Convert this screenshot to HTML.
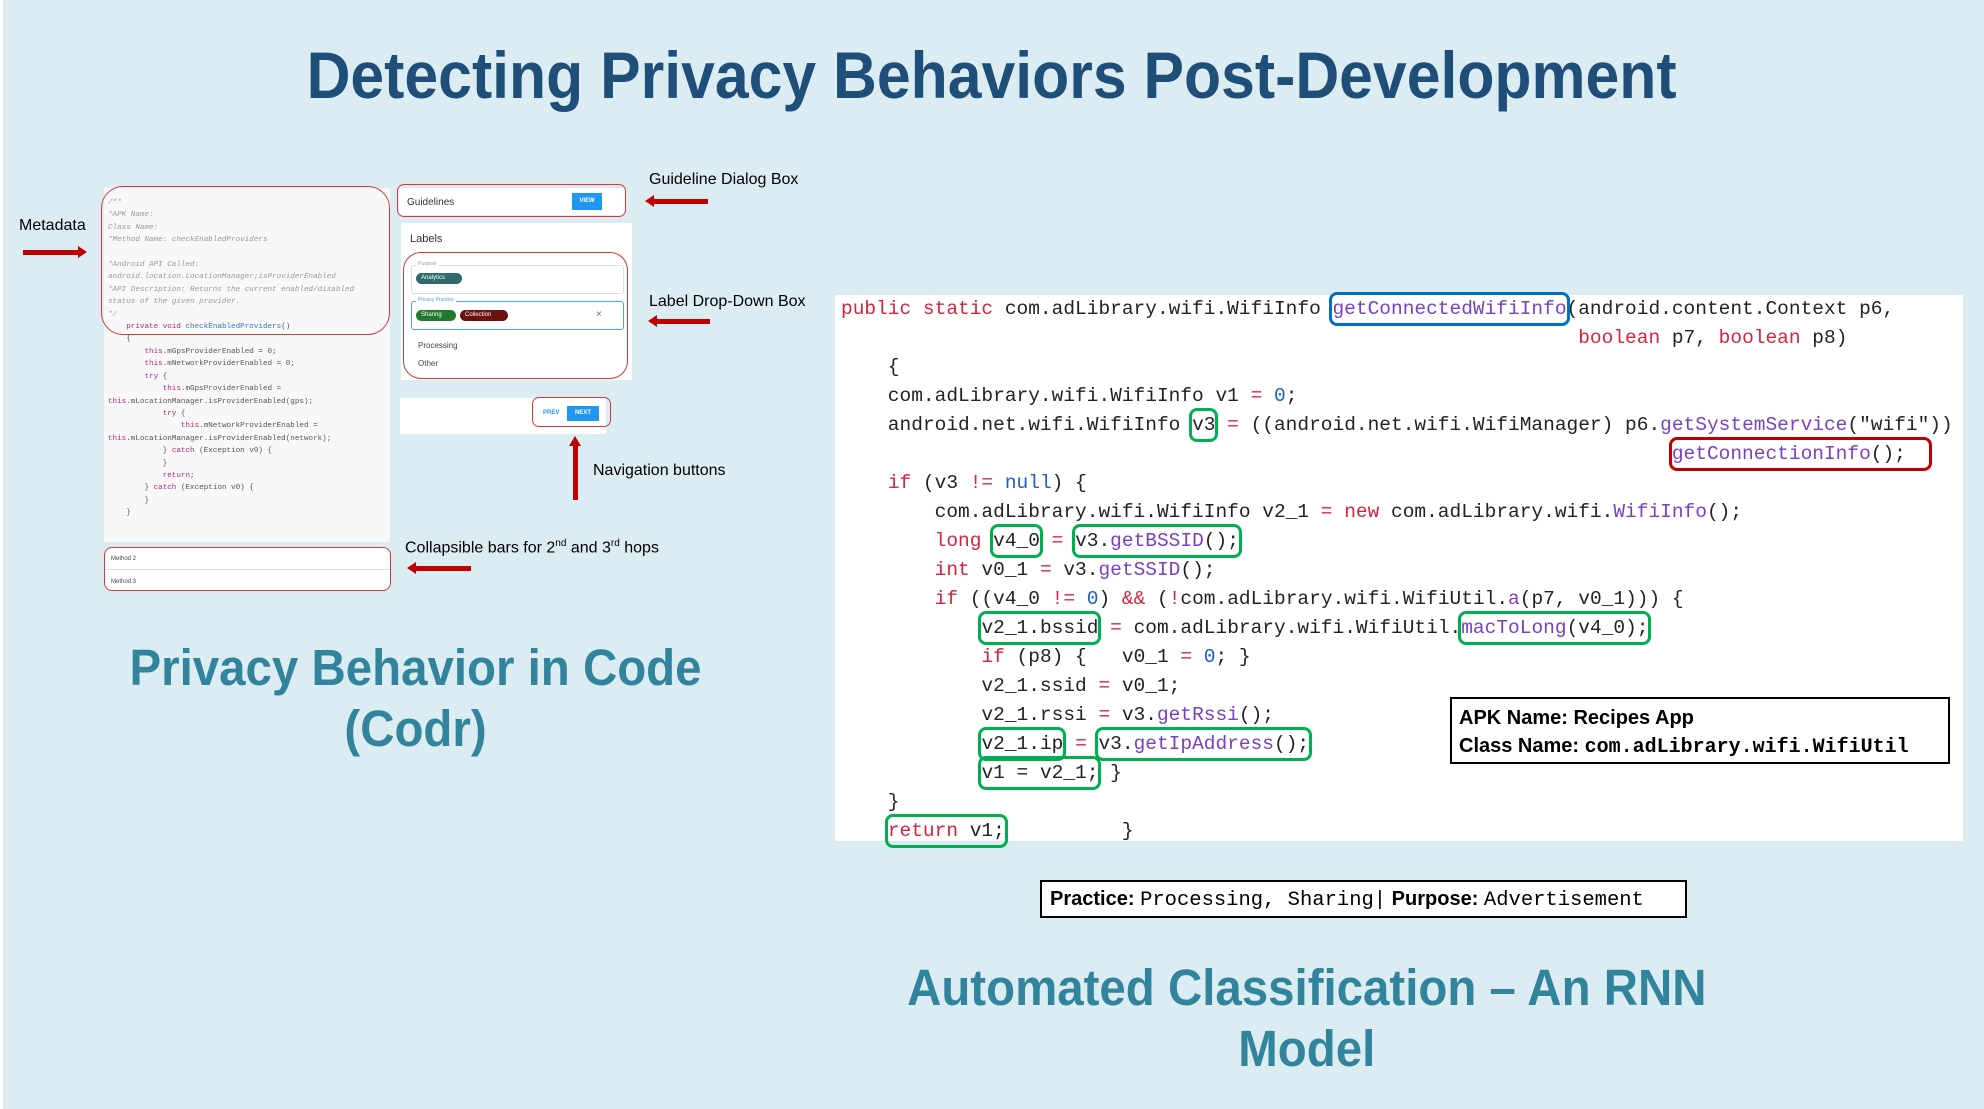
<!DOCTYPE html>
<html><head><meta charset="utf-8">
<style>
*{margin:0;padding:0;box-sizing:border-box}
body{width:1984px;height:1109px;background:#dbedf3;position:relative;overflow:hidden;font-family:"Liberation Sans",sans-serif}
.a{position:absolute}
.title{left:0;width:1984px;top:37px;text-align:center;font-size:66px;font-weight:bold;color:#1f4e79;white-space:nowrap}
.title span{display:inline-block;transform:scaleX(0.92)}
.sub{color:#31849b;font-weight:bold;font-size:51px;text-align:center;line-height:61px;white-space:nowrap}
.sub span{display:inline-block;transform:scaleX(0.93)}
.lbl{font-size:16px;color:#000;white-space:nowrap}
.arrL{height:5px;background:#c00000}
.arrL:before{content:"";position:absolute;left:-8px;top:-4px;border-right:9px solid #c00000;border-top:6.5px solid transparent;border-bottom:6.5px solid transparent}
.arrR{height:5px;background:#c00000}
.arrR:after{content:"";position:absolute;right:-8px;top:-4px;border-left:9px solid #c00000;border-top:6.5px solid transparent;border-bottom:6.5px solid transparent}
.sc{font-family:"Liberation Mono",monospace;font-size:7.6px;color:#555;white-space:pre;line-height:12.4px}
.sc i{color:#999}
.pk{color:#b5287a}.pb{color:#3b6fd0}
.code{left:835px;top:295px;width:1128px;height:546px;background:#fff}
.ln{position:absolute;font-family:"Liberation Mono",monospace;font-size:19.5px;line-height:29px;white-space:pre;color:#222}
.k{color:#d9233c}.m{color:#7a3fc4}.n{color:#1a5fd0}
.g,.b,.r{border-radius:5px;padding:3px 0}
.g{box-shadow:0 0 0 3px #00b050}
.b{box-shadow:0 0 0 3px #0070c0}
.r{box-shadow:0 0 0 3px #c00000}
.chip{position:absolute;height:11px;border-radius:6px;color:#fff;font-size:6px;line-height:11px;padding-left:5px}
</style></head><body>
<div class="a" style="left:0;top:0;width:3px;height:1109px;background:#fff"></div>
<div class="a title"><span>Detecting Privacy Behaviors Post-Development</span></div>

<div class="a" style="left:104px;top:188px;width:286px;height:354px;background:#f8f8f8"></div>
<div class="a sc" style="left:108px;top:197px"><i>/**
*APK Name:
Class Name:
*Method Name: checkEnabledProviders

*Android API Called:
android.location.LocationManager;isProviderEnabled
*API Description: Returns the current enabled/disabled
status of the given provider.
*/</i>
    <span class="pk">private void</span> <span class="pb">checkEnabledProviders</span>()
    {
        <span class="pk">this</span>.mGpsProviderEnabled = 0;
        <span class="pk">this</span>.mNetworkProviderEnabled = 0;
        <span class="pk">try</span> {
            <span class="pk">this</span>.mGpsProviderEnabled =
<span class="pk">this</span>.mLocationManager.isProviderEnabled(gps);
            <span class="pk">try</span> {
                <span class="pk">this</span>.mNetworkProviderEnabled =
<span class="pk">this</span>.mLocationManager.isProviderEnabled(network);
            } <span class="pk">catch</span> (Exception v0) {
            }
            <span class="pk">return</span>;
        } <span class="pk">catch</span> (Exception v0) {
        }
    }</div>
<div class="a" style="left:101px;top:186px;width:289px;height:149px;border:1.5px solid #d43a3a;border-radius:22px"></div>
<div class="a" style="left:104px;top:547px;width:287px;height:44px;background:#fff;border:1.5px solid #d43a3a;border-radius:8px"></div>
<div class="a" style="left:105px;top:569px;width:285px;height:1px;background:#ddd"></div>
<div class="a" style="left:111px;top:556px;font-size:6px;color:#444">Method 2</div>
<div class="a" style="left:111px;top:579px;font-size:6px;color:#444">Method 3</div>

<div class="a" style="left:399px;top:188px;width:226px;height:27px;background:#fff"></div>
<div class="a" style="left:397px;top:184px;width:229px;height:33px;border:1.5px solid #d43a3a;border-radius:7px"></div>
<div class="a" style="left:407px;top:197px;font-size:10px;color:#333">Guidelines</div>
<div class="a" style="left:572px;top:193px;width:30px;height:17px;background:#2196f3;color:#fff;font-size:6px;line-height:17px;text-align:center;font-weight:bold">VIEW</div>
<div class="a" style="left:401px;top:223px;width:231px;height:157px;background:#fff"></div>
<div class="a" style="left:410px;top:233px;font-size:11px;color:#333">Labels</div>
<div class="a" style="left:411px;top:265px;width:213px;height:29px;border:1px solid #ddd;border-radius:3px"></div>
<div class="a" style="left:416px;top:261px;font-size:5px;color:#999;background:#fff;padding:0 2px">Purpose</div>
<div class="chip" style="left:416px;top:273px;width:46px;background:#2e6b6b">Analytics</div>
<div class="a" style="left:411px;top:301px;width:213px;height:29px;border:1px solid #4aa3f0;border-radius:3px"></div>
<div class="a" style="left:416px;top:297px;font-size:5px;color:#4aa3f0;background:#fff;padding:0 2px">Privacy Practice</div>
<div class="chip" style="left:416px;top:310px;width:40px;background:#1f7a2e">Sharing</div>
<div class="chip" style="left:460px;top:310px;width:48px;background:#6b0f0f">Collection</div>
<div class="a" style="left:596px;top:309px;font-size:10px;color:#666">×</div>
<div class="a" style="left:418px;top:341px;font-size:8px;color:#444">Processing</div>
<div class="a" style="left:418px;top:359px;font-size:8px;color:#444">Other</div>
<div class="a" style="left:403px;top:252px;width:225px;height:127px;border:1.5px solid #d43a3a;border-radius:18px"></div>
<div class="a" style="left:400px;top:398px;width:206px;height:36px;background:#fff"></div>
<div class="a" style="left:543px;top:410px;font-size:6px;color:#2196f3;font-weight:bold">PREV</div>
<div class="a" style="left:567px;top:406px;width:32px;height:15px;background:#2196f3;color:#fff;font-size:6px;line-height:15px;text-align:center;font-weight:bold">NEXT</div>
<div class="a" style="left:532px;top:397px;width:79px;height:30px;border:1.5px solid #d43a3a;border-radius:7px"></div>

<div class="a lbl" style="left:19px;top:217px">Metadata</div>
<div class="a arrR" style="left:23px;top:250px;width:56px"></div>
<div class="a lbl" style="left:649px;top:171px">Guideline Dialog Box</div>
<div class="a arrL" style="left:653px;top:199px;width:55px"></div>
<div class="a lbl" style="left:649px;top:293px">Label Drop-Down Box</div>
<div class="a arrL" style="left:656px;top:319px;width:54px"></div>
<div class="a lbl" style="left:593px;top:462px">Navigation buttons</div>
<div class="a" style="left:573px;top:445px;width:5px;height:55px;background:#c00000"></div>
<div class="a" style="left:569px;top:436px;border-bottom:10px solid #c00000;border-left:6.5px solid transparent;border-right:6.5px solid transparent"></div>
<div class="a lbl" style="left:405px;top:538px">Collapsible bars for 2<sup style="font-size:10px">nd</sup> and 3<sup style="font-size:10px">rd</sup> hops</div>
<div class="a arrL" style="left:415px;top:566px;width:56px"></div>

<div class="a sub" style="left:16px;width:800px;top:637px"><span>Privacy Behavior in Code<br>(Codr)</span></div>

<div class="a code"></div>
<div class="ln" style="left:841px;top:295px"><span class="k">public static</span> com.adLibrary.wifi.WifiInfo <span class="b"><span class="m">getConnectedWifiInfo</span></span>(android.content.Context p6,</div>
<div class="ln" style="left:841px;top:324px">                                                               <span class="k">boolean</span> p7, <span class="k">boolean</span> p8)</div>
<div class="ln" style="left:841px;top:353px">    {</div>
<div class="ln" style="left:841px;top:382px">    com.adLibrary.wifi.WifiInfo v1 <span class="k">=</span> <span class="n">0</span>;</div>
<div class="ln" style="left:841px;top:411px">    android.net.wifi.WifiInfo <span class="g">v3</span> <span class="k">=</span> ((android.net.wifi.WifiManager) p6.<span class="m">getSystemService</span>("wifi"))</div>
<div class="ln" style="left:841px;top:440px">                                                                       <span class="r"><span class="m">getConnectionInfo</span>();  </span></div>
<div class="ln" style="left:841px;top:469px">    <span class="k">if</span> (v3 <span class="k">!=</span> <span class="n">null</span>) {</div>
<div class="ln" style="left:841px;top:498px">        com.adLibrary.wifi.WifiInfo v2_1 <span class="k">=</span> <span class="k">new</span> com.adLibrary.wifi.<span class="m">WifiInfo</span>();</div>
<div class="ln" style="left:841px;top:527px">        <span class="k">long</span> <span class="g">v4_0</span> <span class="k">=</span> <span class="g">v3.<span class="m">getBSSID</span>();</span></div>
<div class="ln" style="left:841px;top:556px">        <span class="k">int</span> v0_1 <span class="k">=</span> v3.<span class="m">getSSID</span>();</div>
<div class="ln" style="left:841px;top:585px">        <span class="k">if</span> ((v4_0 <span class="k">!=</span> <span class="n">0</span>) <span class="k">&amp;&amp;</span> (<span class="k">!</span>com.adLibrary.wifi.WifiUtil.<span class="m">a</span>(p7, v0_1))) {</div>
<div class="ln" style="left:841px;top:614px">            <span class="g">v2_1.bssid</span> <span class="k">=</span> com.adLibrary.wifi.WifiUtil.<span class="g"><span class="m">macToLong</span>(v4_0);</span></div>
<div class="ln" style="left:841px;top:643px">            <span class="k">if</span> (p8) {   v0_1 <span class="k">=</span> <span class="n">0</span>; }</div>
<div class="ln" style="left:841px;top:672px">            v2_1.ssid <span class="k">=</span> v0_1;</div>
<div class="ln" style="left:841px;top:701px">            v2_1.rssi <span class="k">=</span> v3.<span class="m">getRssi</span>();</div>
<div class="ln" style="left:841px;top:730px">            <span class="g">v2_1.ip</span> <span class="k">=</span> <span class="g">v3.<span class="m">getIpAddress</span>();</span></div>
<div class="ln" style="left:841px;top:759px">            <span class="g">v1 = v2_1;</span> }</div>
<div class="ln" style="left:841px;top:788px">    }</div>
<div class="ln" style="left:841px;top:817px">    <span class="g"><span class="k">return</span> v1;</span>          }</div>

<div class="a" style="left:1450px;top:697px;width:500px;height:67px;background:#fff;border:2.5px solid #000"></div>
<div class="a" style="left:1459px;top:704px;font-size:20px;font-weight:bold;line-height:28px;white-space:nowrap">APK Name: Recipes App<br>Class Name: <span style="font-family:'Liberation Mono',monospace;font-size:20px">com.adLibrary.wifi.WifiUtil</span></div>

<div class="a" style="left:1040px;top:880px;width:647px;height:38px;background:#fff;border:2.5px solid #000"></div>
<div class="a" style="left:1050px;top:887px;font-size:20px;white-space:nowrap;line-height:24px"><b>Practice:</b> <span style="font-family:'Liberation Mono',monospace;font-size:20.5px">Processing, Sharing|</span> <b>Purpose:</b> <span style="font-family:'Liberation Mono',monospace;font-size:20.5px">Advertisement</span></div>

<div class="a sub" style="left:600px;width:1414px;top:957px"><span>Automated Classification – An RNN<br>Model</span></div>
</body></html>
